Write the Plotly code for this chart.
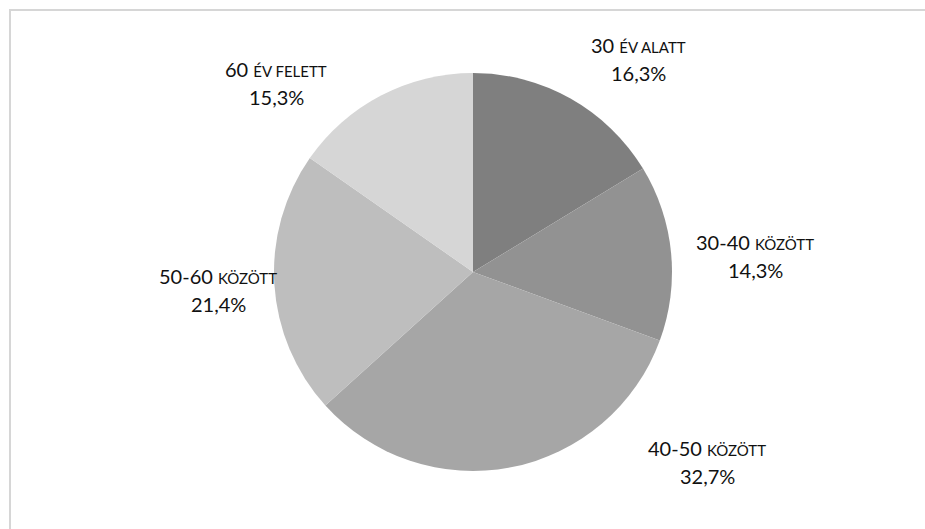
import plotly.graph_objects as go

W, H = 925, 529

# Data
group_main = ["30", "30-40", "40-50", "50-60", "60"]
group_small = ["ÉV ALATT", "KÖZÖTT", "KÖZÖTT", "KÖZÖTT", "ÉV FELETT"]
shares = [16.3, 14.3, 32.7, 21.4, 15.3]
colors = ["#7f7f7f", "#929292", "#a6a6a6", "#bebebe", "#d6d6d6"]

# Layout: label centre positions in pixels (x, y from top)
label_pos_px = [(638, 59), (755, 256), (707, 462), (218, 290), (276, 83)]
line_gap = 28

cx, cy, r = 473, 272, 199

fig = go.Figure(go.Pie(
    values=shares,
    labels=[m + " " + s for m, s in zip(group_main, group_small)],
    marker=dict(colors=colors, line=dict(width=0)),
    sort=False,
    direction="clockwise",
    rotation=0,
    textinfo="none",
    hoverinfo="label+percent",
    showlegend=False,
    domain=dict(x=[(cx - r) / W, (cx + r) / W],
                y=[(H - cy - r) / H, (H - cy + r) / H]),
))

font = dict(family="Lato, Open Sans, sans-serif", size=20, color="#111111")
annotations = []
for m, s, v, (px, py) in zip(group_main, group_small, shares, label_pos_px):
    pct = f"{v:.1f}".replace(".", ",") + "%"
    annotations.append(dict(
        x=px / W, y=1 - (py - line_gap / 2) / H, xref="paper", yref="paper",
        text=f"{m} <span style='font-size:15px'>{s}</span>",
        showarrow=False, xanchor="center", yanchor="middle", font=font))
    annotations.append(dict(
        x=px / W, y=1 - (py + line_gap / 2) / H, xref="paper", yref="paper",
        text=pct,
        showarrow=False, xanchor="center", yanchor="middle", font=font))

fig.update_layout(
    width=W, height=H,
    margin=dict(l=0, r=0, t=0, b=0),
    paper_bgcolor="white",
    plot_bgcolor="white",
    annotations=annotations,
    shapes=[dict(type="rect", xref="paper", yref="paper",
                 x0=10 / W, x1=1.05, y0=-0.05, y1=1 - 10 / H,
                 line=dict(color="#d6d6d6", width=2), fillcolor="rgba(0,0,0,0)")],
)

fig.write_html("out.html",
               config={"displayModeBar": False},
               post_script="document.body.style.margin='0';document.body.style.overflow='hidden';")
